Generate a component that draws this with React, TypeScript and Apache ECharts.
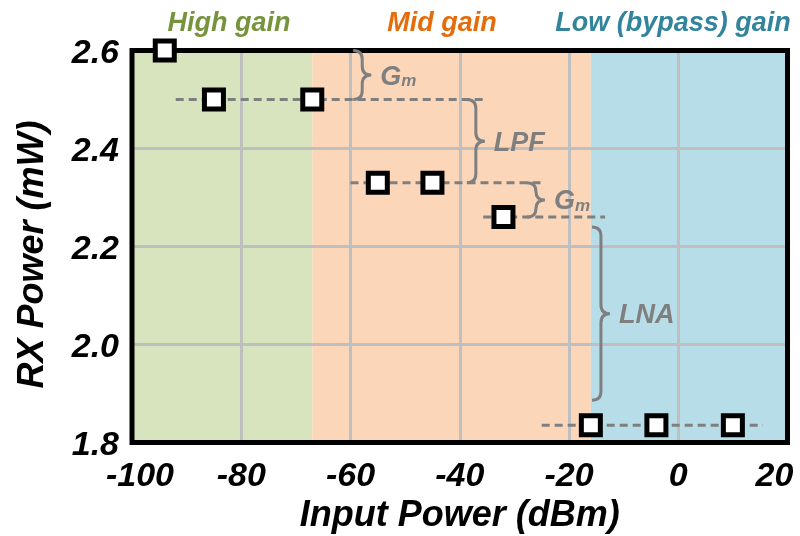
import React, { useEffect, useRef } from "react";
import * as echarts from "echarts";

// Measured operating points
const inputPower = [-94, -85, -67, -55, -45, -32, -16, -4, 10];
const rxPower = [2.6, 2.5, 2.5, 2.33, 2.33, 2.26, 1.835, 1.835, 1.835];

// Gain-mode regions along the input-power axis
const regionNames = ["High gain", "Mid gain", "Low (bypass) gain"];
const regionEdges = [-100, -67, -16, 20];
const regionFill = ["#D7E4BD", "#FBD6B8", "#B7DDE8"];
const regionText = ["#77933C", "#E46C0A", "#31849B"];
const regionLabelX = [229, 442, 673];

// Dashed power levels
const levelY = [2.5, 2.33, 2.26, 1.835];
const levelStart = [-92, -60, -35.7, -25];
const levelEnd = [-35.7, -24.8, -13.4, 15.5];

// Braces marking the blocks that are switched off
const braceX = [-59.5, -38.7, -27.7, -15.8];
const braceTop = [2.6, 2.5, 2.33, 2.24];
const braceBottom = [2.5, 2.33, 2.26, 1.886];
const braceLabels = ["{g|G}{s|m}", "{g|LPF}", "{g|G}{s|m}", "{g|LNA}"];

const FONT = "'Liberation Sans', Arial, sans-serif";
const GREY = "#7F7F7F";

function bracePath(x: number, yt: number, yb: number, w: number) {
  const h = x + w / 2;
  const ym = (yt + yb) / 2;
  const r = Math.min(w / 2, (yb - yt) / 4);
  return (
    `M${x},${yt} Q${h},${yt} ${h},${yt + r} L${h},${ym - r} ` +
    `Q${h},${ym} ${x + w},${ym} Q${h},${ym} ${h},${ym + r} ` +
    `L${h},${yb - r} Q${h},${yb} ${x},${yb}`
  );
}

export default function App() {
  const ref = useRef<HTMLDivElement>(null);

  useEffect(() => {
    if (!ref.current) return;
    const chart = echarts.init(ref.current, undefined, { renderer: "svg" });

    const points = inputPower.map((x, i) => [x, rxPower[i]]);

    const areaData = regionNames.map((_, i) => [
      { xAxis: regionEdges[i], itemStyle: { color: regionFill[i] } },
      { xAxis: regionEdges[i + 1] },
    ]);

    const levelSeries = levelY.map((y, i) => ({
      type: "line",
      z: 4,
      silent: true,
      symbol: "none",
      data: [
        [levelStart[i], y],
        [levelEnd[i], y],
      ],
      lineStyle: { color: GREY, width: 3, type: [8, 5] },
    }));

    const braceData = braceX.map((x, i) => [x, braceTop[i], braceBottom[i]]);

    const titleStyle = {
      color: "#000",
      fontSize: 36,
      fontWeight: "bold",
      fontStyle: "italic",
      fontFamily: FONT,
    };
    const tickStyle = {
      color: "#000",
      fontSize: 34,
      fontWeight: "bold",
      fontStyle: "italic",
      fontFamily: FONT,
    };

    const option: any = {
      animation: false,
      grid: {
        left: 132,
        right: 12.5,
        top: 50.5,
        bottom: 93.5,
        outerBoundsMode: "none",
        containLabel: false,
        show: true,
        borderColor: "#000",
        borderWidth: 5,
        backgroundColor: "transparent",
        z: 3,
      },
      xAxis: {
        type: "value",
        min: -100,
        max: 20,
        interval: 20,
        z: 2,
        axisLine: { show: false },
        axisTick: { show: false },
        splitLine: { show: true, lineStyle: { color: "#BFBFBF", width: 3 } },
        axisLabel: {
          ...tickStyle,
          margin: 14,
          // end labels are nudged inward so they stay on the page
          formatter: (v: number) =>
            v === -100 ? `{l|${v}}` : v === 20 ? `{r|${v}}` : `${v}`,
          rich: {
            l: { ...tickStyle, padding: [0, 0, 0, 16] },
            r: { ...tickStyle, padding: [0, 26, 0, 0] },
          },
        },
        name: "Input Power (dBm)",
        nameLocation: "middle",
        nameGap: 50,
        nameTextStyle: titleStyle,
      },
      yAxis: {
        type: "value",
        min: 1.8,
        max: 2.6,
        interval: 0.2,
        z: 2,
        axisLine: { show: false },
        axisTick: { show: false },
        splitLine: { show: true, lineStyle: { color: "#BFBFBF", width: 3 } },
        axisLabel: {
          ...tickStyle,
          margin: 13,
          formatter: (v: number) => v.toFixed(1),
        },
        name: "RX Power (mW)",
        nameLocation: "middle",
        nameRotate: 90,
        nameGap: 84,
        nameTextStyle: { ...titleStyle, padding: [0, 16, 0, 0] },
      },
      graphic: regionNames.map((name, i) => ({
        type: "text",
        x: regionLabelX[i],
        y: 22,
        silent: true,
        style: {
          text: name,
          align: "center",
          verticalAlign: "middle",
          fill: regionText[i],
          fontSize: 27,
          fontWeight: "bold",
          fontStyle: "italic",
          fontFamily: FONT,
        },
      })),
      series: [
        {
          type: "line",
          z: 1,
          silent: true,
          data: [],
          markArea: {
            silent: true,
            label: { show: false },
            data: areaData,
          },
        },
        ...levelSeries,
        {
          type: "custom",
          z: 4,
          silent: true,
          data: braceData,
          encode: { x: 0, y: [1, 2] },
          renderItem: (params: any, api: any) => {
            const i = params.dataIndex;
            const x = api.value(0);
            const [px, pyT] = api.coord([x, api.value(1)]);
            const pyB = api.coord([x, api.value(2)])[1];
            const w = 18;
            return {
              type: "group",
              children: [
                {
                  type: "path",
                  shape: { pathData: bracePath(px, pyT, pyB, w) },
                  style: { stroke: GREY, fill: "none", lineWidth: 3 },
                },
                {
                  type: "text",
                  x: px + w + 9,
                  y: (pyT + pyB) / 2,
                  style: {
                    text: braceLabels[i],
                    align: "left",
                    verticalAlign: "middle",
                    fill: GREY,
                    fontFamily: FONT,
                    fontWeight: "bold",
                    fontStyle: "italic",
                    rich: {
                      g: {
                        fill: GREY,
                        fontSize: 27,
                        fontWeight: "bold",
                        fontStyle: "italic",
                        fontFamily: FONT,
                        lineHeight: 28,
                        verticalAlign: "bottom",
                      },
                      s: {
                        fill: GREY,
                        fontSize: 17,
                        fontWeight: "bold",
                        fontStyle: "italic",
                        fontFamily: FONT,
                        lineHeight: 14,
                        verticalAlign: "bottom",
                      },
                    },
                  },
                },
              ],
            };
          },
        },
        {
          type: "scatter",
          z: 10,
          silent: true,
          symbol: "rect",
          symbolSize: 19,
          data: points,
          itemStyle: { color: "#fff", borderColor: "#000", borderWidth: 5, opacity: 1 },
        },
      ],
    };

    chart.setOption(option);
    return () => chart.dispose();
  }, []);

  return (
    <div
      ref={ref}
      style={{ position: "fixed", left: 0, top: 0, width: 800, height: 536 }}
    />
  );
}
